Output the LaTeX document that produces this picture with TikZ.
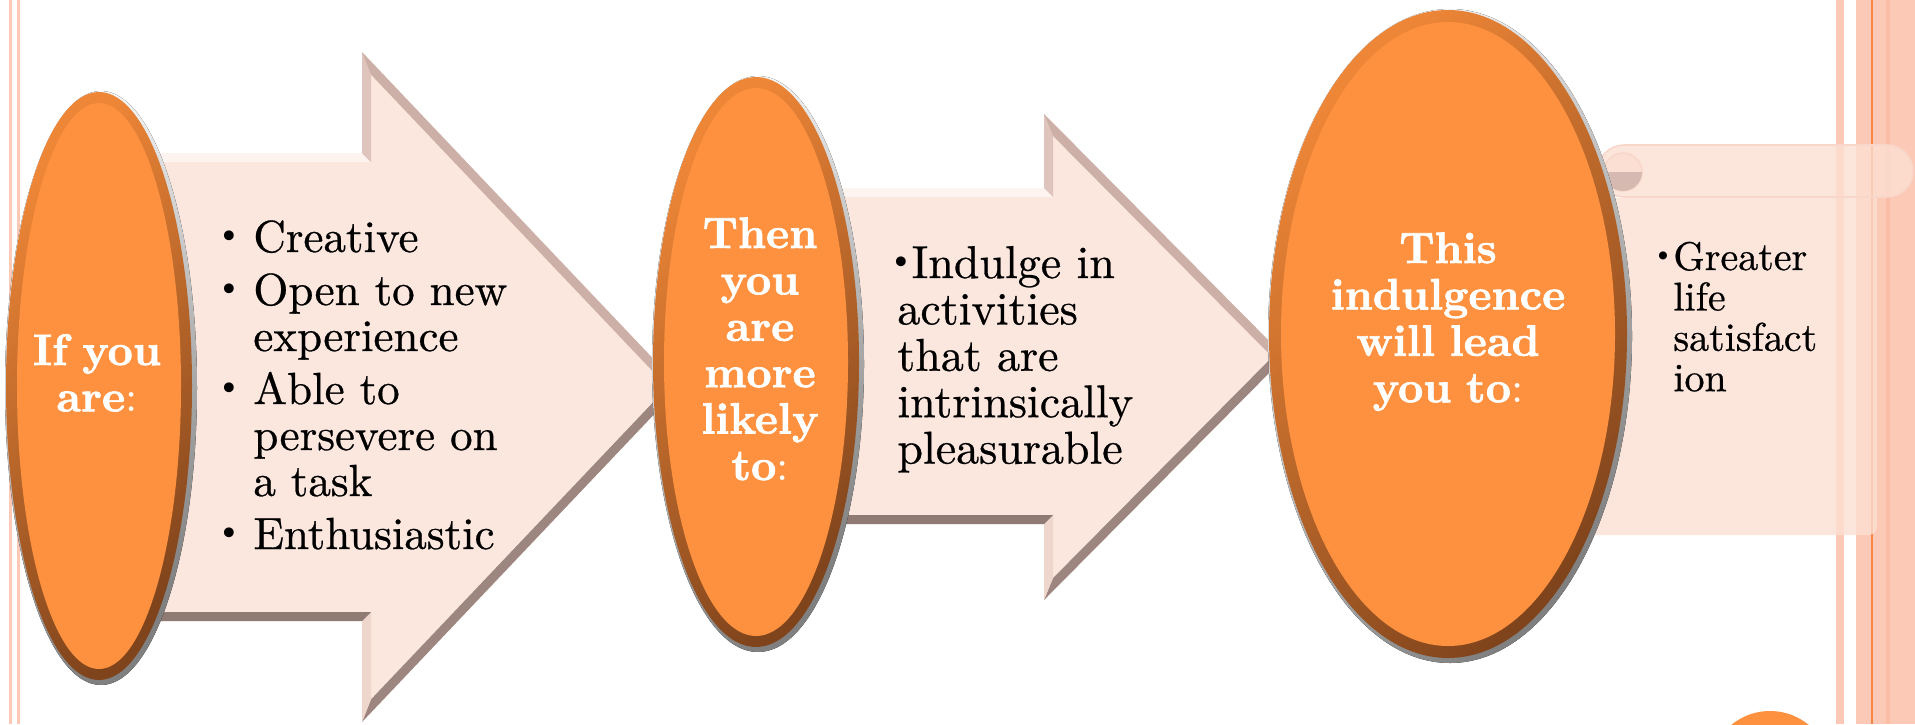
\documentclass[tikz,border=0pt]{standalone}
\usepackage{xcolor}
\usepackage{tikz}
\usetikzlibrary{positioning,shapes.geometric}

\definecolor{ovalfill}{RGB}{253,145,63}
\definecolor{ringlight}{RGB}{238,134,55}
\definecolor{ringdark}{RGB}{128,68,28}
\definecolor{rimlight}{RGB}{246,246,246}
\definecolor{rimdark}{RGB}{128,128,128}
\definecolor{arrowfill}{RGB}{251,231,222}
\definecolor{bevtop}{RGB}{254,244,239}
\definecolor{bevback}{RGB}{222,196,188}
\definecolor{bevdiag}{RGB}{204,175,167}
\definecolor{bevlow}{RGB}{156,134,127}
\definecolor{bevbacklow}{RGB}{238,214,205}
\definecolor{bevbottom}{RGB}{143,122,116}
\definecolor{stripe}{RGB}{252,201,182}
\definecolor{stripedark}{RGB}{250,189,166}
\definecolor{stripeline}{RGB}{246,134,70}
\definecolor{scrollfill}{RGB}{252,223,211}
\definecolor{scrolledge}{RGB}{249,214,202}
\definecolor{curl}{RGB}{214,186,178}

\font\ovalbf="[lmroman10-bold]:embolden=1.5" at 22pt
\font\ovalrm="[lmroman10-regular]" at 22pt
\font\listrm="[lmroman10-regular]:embolden=0.6" at 22.5pt
\font\listrmb="[lmroman10-regular]:embolden=0.6" at 23pt
\font\listrms="[lmroman10-regular]:embolden=0.6" at 20pt

\newcommand{\listdot}[3]{\leavevmode\llap{\raisebox{#1}{\fontsize{#2}{#2}\selectfont\textbullet}\hspace{#3}}}

\begin{document}
\begin{tikzpicture}[x=0.5pt,y=-0.5pt,
  oval/.style={ellipse,inner sep=0pt,top color=ringlight,bottom color=ringdark,shading angle=45},
  rim/.style={top color=rimlight,bottom color=rimdark,shading angle=45},
  ovaltext/.style={anchor=base,inner sep=0pt,align=center,text=white,
    font={\ovalbf\setlength{\baselineskip}{23.2pt}}},
  listtext/.style={anchor=base west,inner sep=0pt,align=left}]
\useasboundingbox (0,0) rectangle (1915,724);
\clip (0,0) rectangle (1915,724);
\fill[white] (0,0) rectangle (1915,724);

\fill[stripe] (9,0) rectangle (12,724);
\fill[stripe] (17,0) rectangle (20,724);
\fill[stripe] (1836,0) rectangle (1844,724);
\fill[stripe] (1856,0) rectangle (1915,724);
\fill[stripedark] (1886,0) rectangle (1890,724);
\fill[stripeline] (1871,0) rectangle (1873,724);
\fill[ovalfill] (1770,772) circle[radius=30.5pt];

\fill[arrowfill] (120,153) -- (362,153) -- (362,52) -- (680,387) -- (362,722) -- (362,621) -- (120,621) -- cycle;
\fill[bevtop] (120,153) -- (362,153) -- (371,162) -- (120,162) -- cycle;
\fill[bevback] (362,153) -- (362,52) -- (371,74.6) -- (371,162) -- cycle;
\fill[bevdiag] (362,52) -- (680,387) -- (667.6,387) -- (371,74.6) -- cycle;
\fill[bevlow] (680,387) -- (362,722) -- (371,699.4) -- (667.6,387) -- cycle;
\fill[bevbacklow] (362,722) -- (362,621) -- (371,612) -- (371,699.4) -- cycle;
\fill[bevbottom] (362,621) -- (120,621) -- (120,612) -- (371,612) -- cycle;

\fill[arrowfill] (830,188) -- (1044,188) -- (1044,114) -- (1285,357) -- (1044,600) -- (1044,524) -- (830,524) -- cycle;
\fill[bevtop] (830,188) -- (1044,188) -- (1053,197) -- (830,197) -- cycle;
\fill[bevback] (1044,188) -- (1044,114) -- (1053,135.9) -- (1053,197) -- cycle;
\fill[bevdiag] (1044,114) -- (1285,357) -- (1272.3,357) -- (1053,135.9) -- cycle;
\fill[bevlow] (1285,357) -- (1044,600) -- (1053,578.1) -- (1272.3,357) -- cycle;
\fill[bevbacklow] (1044,600) -- (1044,524) -- (1053,515) -- (1053,578.1) -- cycle;
\fill[bevbottom] (1044,524) -- (830,524) -- (830,515) -- (1053,515) -- cycle;

\filldraw[fill=scrollfill,draw=scrolledge,fill opacity=0.78,line width=0.8pt,rounded corners=13pt]
  (1598,145) rectangle (1913,197);
\fill[scrollfill,fill opacity=0.78] (1585,198) -- (1877,198) -- (1877,517)
  .. controls (1877,535) .. (1859,535) -- (1585,535) -- cycle;
\filldraw[fill=scrollfill,draw=scrolledge,line width=0.8pt] (1623,172) circle[radius=9.5pt];
\fill[curl] (1604,172) arc[start angle=180,end angle=360,radius=9.5pt] -- cycle;

\fill[rim] (101,388) ellipse[x radius=48pt,y radius=148.5pt];
\node[oval,minimum width=93pt,minimum height=294pt] (e1) at (99,386) {};
\fill[ovalfill] (e1.center) ellipse[x radius=41pt,y radius=141.5pt];

\fill[rim] (758,364) ellipse[x radius=53pt,y radius=144pt];
\node[oval,minimum width=103pt,minimum height=285pt] (e2) at (756,362) {};
\fill[ovalfill] (e2.center) ellipse[x radius=46pt,y radius=137pt];

\fill[rim] (1450,336) ellipse[x radius=91pt,y radius=163.5pt];
\node[oval,minimum width=179pt,minimum height=324pt] (e3) at (1448,334) {};
\fill[ovalfill] (e3.center) ellipse[x radius=83.5pt,y radius=156pt];

\node[ovaltext,text width=80pt] (t1) at (97,365) {If you\\are{\ovalrm:}};
\node[ovaltext,text width=80pt] (t2) at (760,248) {Then\\you\\are\\more\\likely\\to{\ovalrm:}};
\node[ovaltext,text width=140pt] (t3) at (1448,263) {This\\indulgence\\will lead\\you to{\ovalrm:}};

\node[listtext,text width=140pt,font={\listrm\setlength{\baselineskip}{23pt}}] (l1) at (253,252) {%
  \listdot{2.5pt}{22}{4pt}Creative\\[3.5pt]
  \listdot{2.5pt}{22}{4pt}Open to new\\
  experience\\[3.5pt]
  \listdot{2.5pt}{22}{4pt}Able to\\
  persevere on\\
  a task\\[3.5pt]
  \listdot{2.5pt}{22}{4pt}Enthusiastic};
\node[listtext,text width=140pt,font={\listrmb\setlength{\baselineskip}{23.2pt}}] (l2) at (897,278) {%
  \leavevmode\kern-6pt\raisebox{2.5pt}{\fontsize{22}{22}\selectfont\textbullet}\kern-2.7pt Indulge in\\
  activities\\
  that are\\
  intrinsically\\
  pleasurable};
\node[listtext,text width=90pt,font={\listrms\setlength{\baselineskip}{20.2pt}}] (l3) at (1673,270) {%
  \listdot{2.5pt}{18}{-1.5pt}Greater\\
  life\\
  satisfact\\
  ion};
\end{tikzpicture}
\end{document}
